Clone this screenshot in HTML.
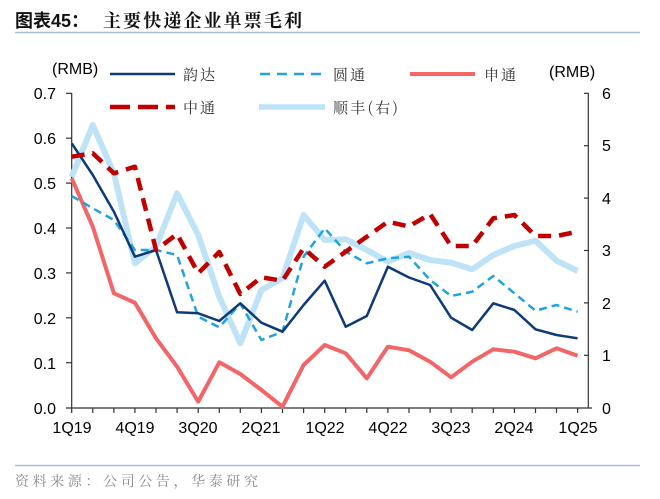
<!DOCTYPE html>
<html><head><meta charset="utf-8"><style>
html,body{margin:0;padding:0;background:#fff;}
svg{display:block;}
</style></head><body>
<svg width="660" height="499" viewBox="0 0 660 499" xmlns="http://www.w3.org/2000/svg">
<rect width="660" height="499" fill="#fff"/>
<!-- title -->
<text x="15" y="27" font-family="Liberation Sans, Noto Sans CJK SC, sans-serif" font-weight="bold" font-size="18" fill="#111">图表45：</text>
<text x="103" y="27" font-family="Noto Serif CJK SC, serif" font-weight="bold" font-size="18" fill="#111" textLength="199" lengthAdjust="spacing">主要快递企业单票毛利</text>
<line x1="15" y1="32.5" x2="640" y2="32.5" stroke="#A9BED3" stroke-width="1.5"/>
<line x1="15" y1="465.5" x2="640" y2="465.5" stroke="#A9BED3" stroke-width="1.5"/>
<text x="15" y="486" font-family="Noto Serif CJK SC, serif" font-size="14" fill="#8a8a8a" textLength="243" lengthAdjust="spacing">资料来源：公司公告，华泰研究</text>

<!-- axes -->
<g stroke="#333" stroke-width="1.2" fill="none">
<line x1="71.7" y1="93" x2="71.7" y2="408"/>
<line x1="588.3" y1="93" x2="588.3" y2="408"/>
<line x1="66" y1="408" x2="592" y2="408"/>
<line x1="66" y1="93.3" x2="71.7" y2="93.3"/>
<line x1="66" y1="138.2" x2="71.7" y2="138.2"/>
<line x1="66" y1="183.1" x2="71.7" y2="183.1"/>
<line x1="66" y1="228" x2="71.7" y2="228"/>
<line x1="66" y1="272.9" x2="71.7" y2="272.9"/>
<line x1="66" y1="317.8" x2="71.7" y2="317.8"/>
<line x1="66" y1="362.7" x2="71.7" y2="362.7"/>
<line x1="584" y1="93.3" x2="588.3" y2="93.3"/>
<line x1="584" y1="145.7" x2="588.3" y2="145.7"/>
<line x1="584" y1="198.1" x2="588.3" y2="198.1"/>
<line x1="584" y1="250.5" x2="588.3" y2="250.5"/>
<line x1="584" y1="302.9" x2="588.3" y2="302.9"/>
<line x1="584" y1="355.3" x2="588.3" y2="355.3"/>
<path d="M71.7 408v5M92.8 408v5M113.9 408v5M134.9 408v5M156 408v5M177.1 408v5M198.2 408v5M219.3 408v5M240.3 408v5M261.4 408v5M282.5 408v5M303.6 408v5M324.7 408v5M345.7 408v5M366.8 408v5M387.9 408v5M409 408v5M430.1 408v5M451.1 408v5M472.2 408v5M493.3 408v5M514.4 408v5M535.5 408v5M556.5 408v5M577.6 408v5"/>
</g>

<!-- axis labels -->
<g font-family="Liberation Sans, sans-serif" font-size="16" fill="#000" text-anchor="end">
<text x="56" y="99">0.7</text>
<text x="56" y="144">0.6</text>
<text x="56" y="189">0.5</text>
<text x="56" y="234">0.4</text>
<text x="56" y="279">0.3</text>
<text x="56" y="324">0.2</text>
<text x="56" y="369">0.1</text>
<text x="56" y="414">0.0</text>
</g>
<g font-family="Liberation Sans, sans-serif" font-size="16" fill="#000" text-anchor="start">
<text x="602" y="99">6</text>
<text x="602" y="151">5</text>
<text x="602" y="204">4</text>
<text x="602" y="256">3</text>
<text x="602" y="309">2</text>
<text x="602" y="361">1</text>
<text x="602" y="414">0</text>
</g>
<g font-family="Liberation Sans, sans-serif" font-size="16" fill="#000" text-anchor="middle">
<text x="72" y="433">1Q19</text>
<text x="135" y="433">4Q19</text>
<text x="198" y="433">3Q20</text>
<text x="261" y="433">2Q21</text>
<text x="325" y="433">1Q22</text>
<text x="388" y="433">4Q22</text>
<text x="451" y="433">3Q23</text>
<text x="514" y="433">2Q24</text>
<text x="578" y="433">1Q25</text>
</g>
<text x="52" y="74" font-family="Liberation Sans, sans-serif" font-size="16" fill="#000">(RMB)</text>
<text x="549" y="77" font-family="Liberation Sans, sans-serif" font-size="16" fill="#000">(RMB)</text>

<!-- legend -->
<line x1="110" y1="74" x2="175" y2="74" stroke="#0E3A78" stroke-width="2.5"/>
<text x="183" y="80" font-family="Noto Serif CJK SC, serif" font-size="15" fill="#333" textLength="32">韵达</text>
<line x1="260" y1="74" x2="325" y2="74" stroke="#22A3DE" stroke-width="2.5" stroke-dasharray="10,7"/>
<text x="333" y="80" font-family="Noto Serif CJK SC, serif" font-size="15" fill="#333" textLength="32">圆通</text>
<line x1="410" y1="74" x2="475" y2="74" stroke="#F26668" stroke-width="4"/>
<text x="484" y="80" font-family="Noto Serif CJK SC, serif" font-size="15" fill="#333" textLength="32">申通</text>
<line x1="110" y1="107" x2="175" y2="107" stroke="#C00000" stroke-width="4.5" stroke-dasharray="20,8"/>
<text x="183" y="113" font-family="Noto Serif CJK SC, serif" font-size="15" fill="#333" textLength="32">中通</text>
<line x1="259" y1="107" x2="325" y2="107" stroke="#BEE3F6" stroke-width="5.5"/>
<text x="333" y="113" font-family="Noto Serif CJK SC, serif" font-size="15" fill="#333" textLength="65">顺丰(右)</text>

<!-- series -->
<g fill="none" stroke-linejoin="round">
<polyline stroke="#BEE3F6" stroke-width="6" points="71.7,176.7 92.8,125 113.9,173.3 134.9,263.3 156,246.7 177.1,193.3 198.2,235 219.3,296.7 240.3,343.3 261.4,290 282.5,278.3 303.6,215 324.7,240 345.7,239.3 366.8,250 387.9,261.7 409,253 430.1,260 451.1,262.7 472.2,269.3 493.3,255 514.4,246 535.5,240.7 556.5,260.7 577.6,271"/>
<polyline stroke="#F26668" stroke-width="4" points="71.7,178.3 92.8,226.7 113.9,293.3 134.9,302.7 156,338.3 177.1,366.7 198.2,401.7 219.3,362.3 240.3,374 261.4,390 282.5,406.7 303.6,365 324.7,345 345.7,353.3 366.8,378.3 387.9,346.7 409,350.3 430.1,361.7 451.1,377.3 472.2,361.7 493.3,349.3 514.4,351.7 535.5,358.3 556.5,348.3 577.6,355.7"/>
<polyline stroke="#22A3DE" stroke-width="2.5" stroke-dasharray="8,5" points="71.7,196 92.8,208.3 113.9,220 134.9,250 156,250 177.1,255 198.2,316.7 219.3,327.3 240.3,303.5 261.4,340 282.5,331.7 303.6,256.7 324.7,228.3 345.7,251.7 366.8,263.3 387.9,258.3 409,256.7 430.1,280 451.1,296 472.2,291.7 493.3,276 514.4,293.3 535.5,310.7 556.5,305 577.6,311.7"/>
<polyline stroke="#0E3A78" stroke-width="2.5" points="71.7,143.3 92.8,175 113.9,211.7 134.9,256.7 156,250 177.1,312.3 198.2,313.3 219.3,321 240.3,303.3 261.4,322.7 282.5,331.7 303.6,305 324.7,280.7 345.7,326.7 366.8,316 387.9,266.7 409,277.5 430.1,285 451.1,317.7 472.2,330 493.3,303.3 514.4,310 535.5,329.3 556.5,335 577.6,338.3"/>
<polyline stroke="#C00000" stroke-width="4.5" stroke-dasharray="13,8" points="71.7,156.7 92.8,153.3 113.9,173.3 134.9,166.7 156,250 177.1,234 198.2,273.3 219.3,252 240.3,294 261.4,277.3 282.5,280.7 303.6,248.3 324.7,266.7 345.7,251.7 366.8,236.7 387.9,221.7 409,226.5 430.1,214 451.1,246 472.2,246 493.3,218.3 514.4,215 535.5,236 556.5,236 577.6,231.7"/>
</g>
</svg>
</body></html>
